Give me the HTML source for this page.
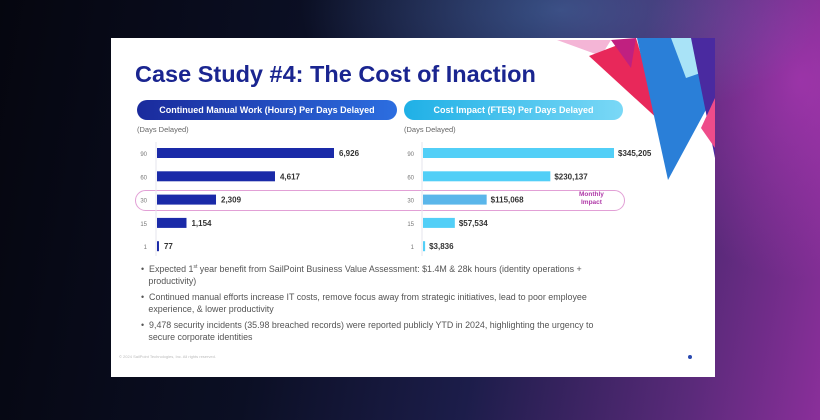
<!DOCTYPE html>
<html><head><meta charset="utf-8"><style>
body{margin:0;width:820px;height:420px;overflow:hidden;font-family:"Liberation Sans",sans-serif;}
#bg{position:absolute;left:0;top:0;width:820px;height:420px;background:linear-gradient(100deg,#05060f 0%,#0b0f24 35%,#1c1d4a 60%,#5a2a7a 85%,#8a2f9a 100%);}
#glow{position:absolute;left:0;top:0;width:820px;height:420px;background:radial-gradient(ellipse 260px 120px at 560px 10px,rgba(90,140,200,.45),transparent),radial-gradient(ellipse 160px 200px at 800px 80px,rgba(200,60,200,.5),transparent);}
#slide{position:absolute;left:111px;top:38px;width:604px;height:339px;background:#fff;overflow:hidden;}
.t{position:absolute;white-space:nowrap;}
</style></head><body>
<div id="bg"></div>
<div id="glow"></div>
<div id="slide">
<svg width="604" height="339" style="position:absolute;left:0;top:0">
<polygon points="446,2 500,2 490,18" fill="#f4b5d6"/>
<polygon points="478,18 525,0 550,84" fill="#e8285a"/>
<polygon points="500,2 525,0 520,30" fill="#c02080"/>
<polygon points="526,0 604,0 604,55 557,142" fill="#2a7fd8"/>
<polygon points="560,0 604,0 604,30 575,40" fill="#a9e3f7"/>
<polygon points="580,0 604,0 604,120" fill="#4a2aa0"/>
<polygon points="590,90 604,60 604,110" fill="#ee4c8a"/>
</svg>
<div class="t" style="left:24px;top:23px;font-size:23.5px;font-weight:bold;color:#1a2590">Case Study #4: The Cost of Inaction</div>
<div class="t" style="left:26px;top:62px;width:260px;height:20px;border-radius:10px;background:linear-gradient(90deg,#1a2a9c,#2c6ee0);color:#fff;font-size:9px;font-weight:bold;line-height:20px;text-align:center">Continued Manual Work (Hours) Per Days Delayed</div>
<div class="t" style="left:293px;top:62px;width:219px;height:20px;border-radius:10px;background:linear-gradient(90deg,#1fb0e6,#7ad8f6);color:#fff;font-size:9px;font-weight:bold;line-height:20px;text-align:center">Cost Impact (FTE$) Per Days Delayed</div>
<div class="t" style="left:26px;top:87px;font-size:7.5px;color:#666">(Days Delayed)</div>
<div class="t" style="left:293px;top:87px;font-size:7.5px;color:#666">(Days Delayed)</div>
<div class="t" style="left:24px;top:152px;width:488px;height:19px;border:1.5px solid #e2a0d6;border-radius:11px"></div>
<div class="t" style="left:468px;top:153px;font-size:6.5px;color:#b03aa8;font-weight:bold;text-align:center;line-height:8px">Monthly<br>Impact</div>
<svg id="ch" width="604" height="339" style="position:absolute;left:0;top:0"></svg>
<div class="t" style="left:30px;top:226px;font-size:8.9px;color:#555;line-height:11.5px">
<div style="margin-bottom:5px">•&nbsp;&nbsp;Expected 1<sup style="font-size:5px;line-height:0">st</sup> year benefit from SailPoint Business Value Assessment: $1.4M &amp; 28k hours (identity operations +<br>&nbsp;&nbsp;&nbsp;productivity)</div>
<div style="margin-bottom:5px">•&nbsp;&nbsp;Continued manual efforts increase IT costs, remove focus away from strategic initiatives, lead to poor employee<br>&nbsp;&nbsp;&nbsp;experience, &amp; lower productivity</div>
<div>•&nbsp;&nbsp;9,478 security incidents (35.98 breached records) were reported publicly YTD in 2024, highlighting the urgency to<br>&nbsp;&nbsp;&nbsp;secure corporate identities</div>
</div>
<div class="t" style="left:8px;top:316px;font-size:4px;color:#bbb">© 2024 SailPoint Technologies, Inc. All rights reserved.</div>
<div class="t" style="left:577px;top:317px;width:4px;height:4px;border-radius:2px;background:#2a4ab0"></div>
</div>
<script>
const days=["90","60","30","15","1"];
const hours=[6926,4617,2309,1154,77];
const hoursLabels=["6,926","4,617","2,309","1,154","77"];
const cost=[345205,230137,115068,57534,3836];
const costLabels=["$345,205","$230,137","$115,068","$57,534","$3,836"];
const svg=document.getElementById('ch');
const NS='http://www.w3.org/2000/svg';
function rowY(i){return 115+i*23.3;}
function xL(v){return 46+v/6926*177;}
function xR(v){return 312+v/345205*191;}
function mk(tag,attrs){const e=document.createElementNS(NS,tag);for(const k in attrs)e.setAttribute(k,attrs[k]);svg.appendChild(e);return e;}
function axis(x){const l=mk('line',{x1:x,x2:x,y1:104,y2:218,stroke:'#e6e6ee','stroke-width':1});

}
axis(45);axis(311);
days.forEach((d,i)=>{
 const y=rowY(i);
 let t=mk('text',{x:36,y:y+3,'font-size':6,fill:'#777','text-anchor':'end','font-family':'Liberation Sans'});t.textContent=d;
 
 
 let b=mk('rect',{x:46,y:y-5,width:xL(hours[i])-46,height:10,fill:'#1a2aa8'});
 
 
 t=mk('text',{x:xL(hours[i])+5,y:y+3,'font-size':8,fill:'#333','font-weight':'bold','font-family':'Liberation Sans'});t.textContent=hoursLabels[i];
 
 
 t=mk('text',{x:303,y:y+3,'font-size':6,fill:'#777','text-anchor':'end','font-family':'Liberation Sans'});t.textContent=d;
 
 
 b=mk('rect',{x:312,y:y-5,width:xR(cost[i])-312,height:10,fill:i==2?'#5ab6ea':'#52cff7'});
 
 
 t=mk('text',{x:xR(cost[i])+4,y:y+3,'font-size':8,fill:'#333','font-weight':'bold','font-family':'Liberation Sans'});t.textContent=costLabels[i];
 
 
});
</script>
</body></html>
